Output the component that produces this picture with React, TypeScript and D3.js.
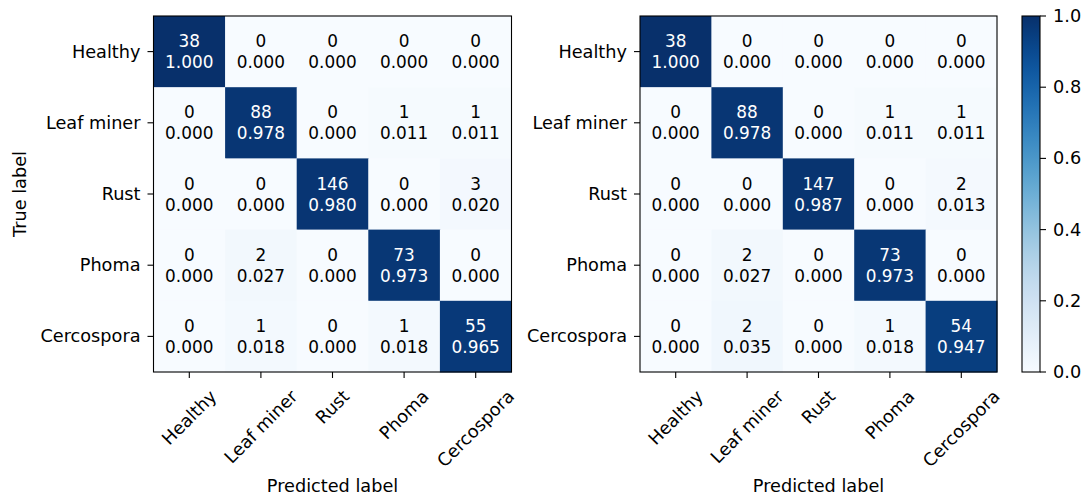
import React from "react";
import * as d3 from "d3";

const labels = ["Healthy", "Leaf miner", "Rust", "Phoma", "Cercospora"];
const countsA = [
  [38, 0, 0, 0, 0],
  [0, 88, 0, 1, 1],
  [0, 0, 146, 0, 3],
  [0, 2, 0, 73, 0],
  [0, 1, 0, 1, 55],
];
const countsB = [
  [38, 0, 0, 0, 0],
  [0, 88, 0, 1, 1],
  [0, 0, 147, 0, 2],
  [0, 2, 0, 73, 0],
  [0, 2, 0, 1, 54],
];
const cbTicks = [0, 0.2, 0.4, 0.6, 0.8, 1.0];

const FONT = "DejaVu Sans, sans-serif";
const FS = 17.7;
const CFS = 16.9;
const TOP = 16;
const BOTTOM = 372;

function measure(text: string): number {
  const c = document.createElement("canvas");
  const ctx = c.getContext("2d");
  if (!ctx) return text.length * FS * 0.6;
  ctx.font = `${FS}px "DejaVu Sans"`;
  return ctx.measureText(text).width;
}

const color = (v: number) => d3.interpolateBlues(v);

function Matrix({ counts, x0, x1, showYTitle }: { counts: number[][]; x0: number; x1: number; showYTitle: boolean }) {
  const xs = d3.scaleBand<string>().domain(labels).range([x0, x1]);
  const ys = d3.scaleBand<string>().domain(labels).range([TOP, BOTTOM]);
  const norm = counts.map((row) => {
    const s = d3.sum(row);
    return row.map((v) => v / s);
  });
  const bw = xs.bandwidth();
  const bh = ys.bandwidth();
  const lineH = FS * 1.164;
  return (
    <g>
      {counts.map((row, i) =>
        row.map((v, j) => {
          const nv = norm[i][j];
          const x = xs(labels[j])!;
          const y = ys(labels[i])!;
          const cx = x + bw / 2;
          const cy = y + bh / 2;
          const tc = nv > 0.5 ? "#ffffff" : "#000000";
          return (
            <g key={`${i}-${j}`}>
              <rect x={x} y={y} width={bw + 0.5} height={bh + 0.5} fill={color(nv)} />
              <text x={cx} y={cy - 10.5} textAnchor="middle" dominantBaseline="central" fill={tc} fontSize={CFS} fontFamily={FONT}>
                {v}
              </text>
              <text x={cx} y={cy + 10.5} textAnchor="middle" dominantBaseline="central" fill={tc} fontSize={CFS} fontFamily={FONT}>
                {nv.toFixed(3)}
              </text>
            </g>
          );
        })
      )}
      <rect x={x0} y={TOP} width={x1 - x0} height={BOTTOM - TOP} fill="none" stroke="#000" strokeWidth={1.1} />
      {labels.map((l) => {
        const cy = ys(l)! + bh / 2;
        return (
          <g key={"y" + l}>
            <line x1={x0 - 6} x2={x0} y1={cy} y2={cy} stroke="#000" strokeWidth={1.1} />
            <text x={x0 - 13} y={cy} textAnchor="end" dominantBaseline="central" fontSize={FS} fontFamily={FONT} fill="#000">
              {l}
            </text>
          </g>
        );
      })}
      {labels.map((l) => {
        const cx = xs(l)! + bw / 2;
        const w = measure(l);
        const H = (w + lineH) / Math.SQRT2;
        const cy = 386 + H / 2;
        return (
          <g key={"x" + l}>
            <line x1={cx} x2={cx} y1={BOTTOM} y2={BOTTOM + 6} stroke="#000" strokeWidth={1.1} />
            <text
              transform={`translate(${cx},${cy}) rotate(-45)`}
              textAnchor="middle"
              dominantBaseline="central"
              fontSize={FS}
              fontFamily={FONT}
              fill="#000"
            >
              {l}
            </text>
          </g>
        );
      })}
      <text x={(x0 + x1) / 2} y={492} textAnchor="middle" fontSize={FS} fontFamily={FONT} fill="#000">
        Predicted label
      </text>
      {showYTitle && (
        <text
          transform={`translate(20,${(TOP + BOTTOM) / 2}) rotate(-90)`}
          textAnchor="middle"
          dominantBaseline="central"
          fontSize={FS}
          fontFamily={FONT}
          fill="#000"
        >
          True label
        </text>
      )}
    </g>
  );
}

export default function App() {
  const cbX0 = 1022;
  const cbX1 = 1040;
  const cbScale = d3.scaleLinear().domain([0, 1]).range([BOTTOM, TOP]);
  const stops = d3.range(0, 1.0001, 0.05);
  return (
    <svg width={1085} height={495} style={{ position: "absolute", left: 0, top: 0 }}>
      <rect x={0} y={0} width={1085} height={495} fill="#fff" />
      <defs>
        <linearGradient id="cbgrad" x1="0" y1="1" x2="0" y2="0">
          {stops.map((s) => (
            <stop key={s} offset={s} stopColor={color(s)} />
          ))}
        </linearGradient>
      </defs>
      <Matrix counts={countsA} x0={153.5} x1={511.5} showYTitle={true} />
      <Matrix counts={countsB} x0={640} x1={997} showYTitle={false} />
      <rect x={cbX0} y={TOP} width={cbX1 - cbX0} height={BOTTOM - TOP} fill="url(#cbgrad)" stroke="#000" strokeWidth={1.1} />
      {cbTicks.map((t) => (
        <g key={t}>
          <line x1={cbX1} x2={cbX1 + 6} y1={cbScale(t)} y2={cbScale(t)} stroke="#000" strokeWidth={1.1} />
          <text x={cbX1 + 13} y={cbScale(t)} dominantBaseline="central" fontSize={FS} fontFamily={FONT} fill="#000">
            {t.toFixed(1)}
          </text>
        </g>
      ))}
    </svg>
  );
}
